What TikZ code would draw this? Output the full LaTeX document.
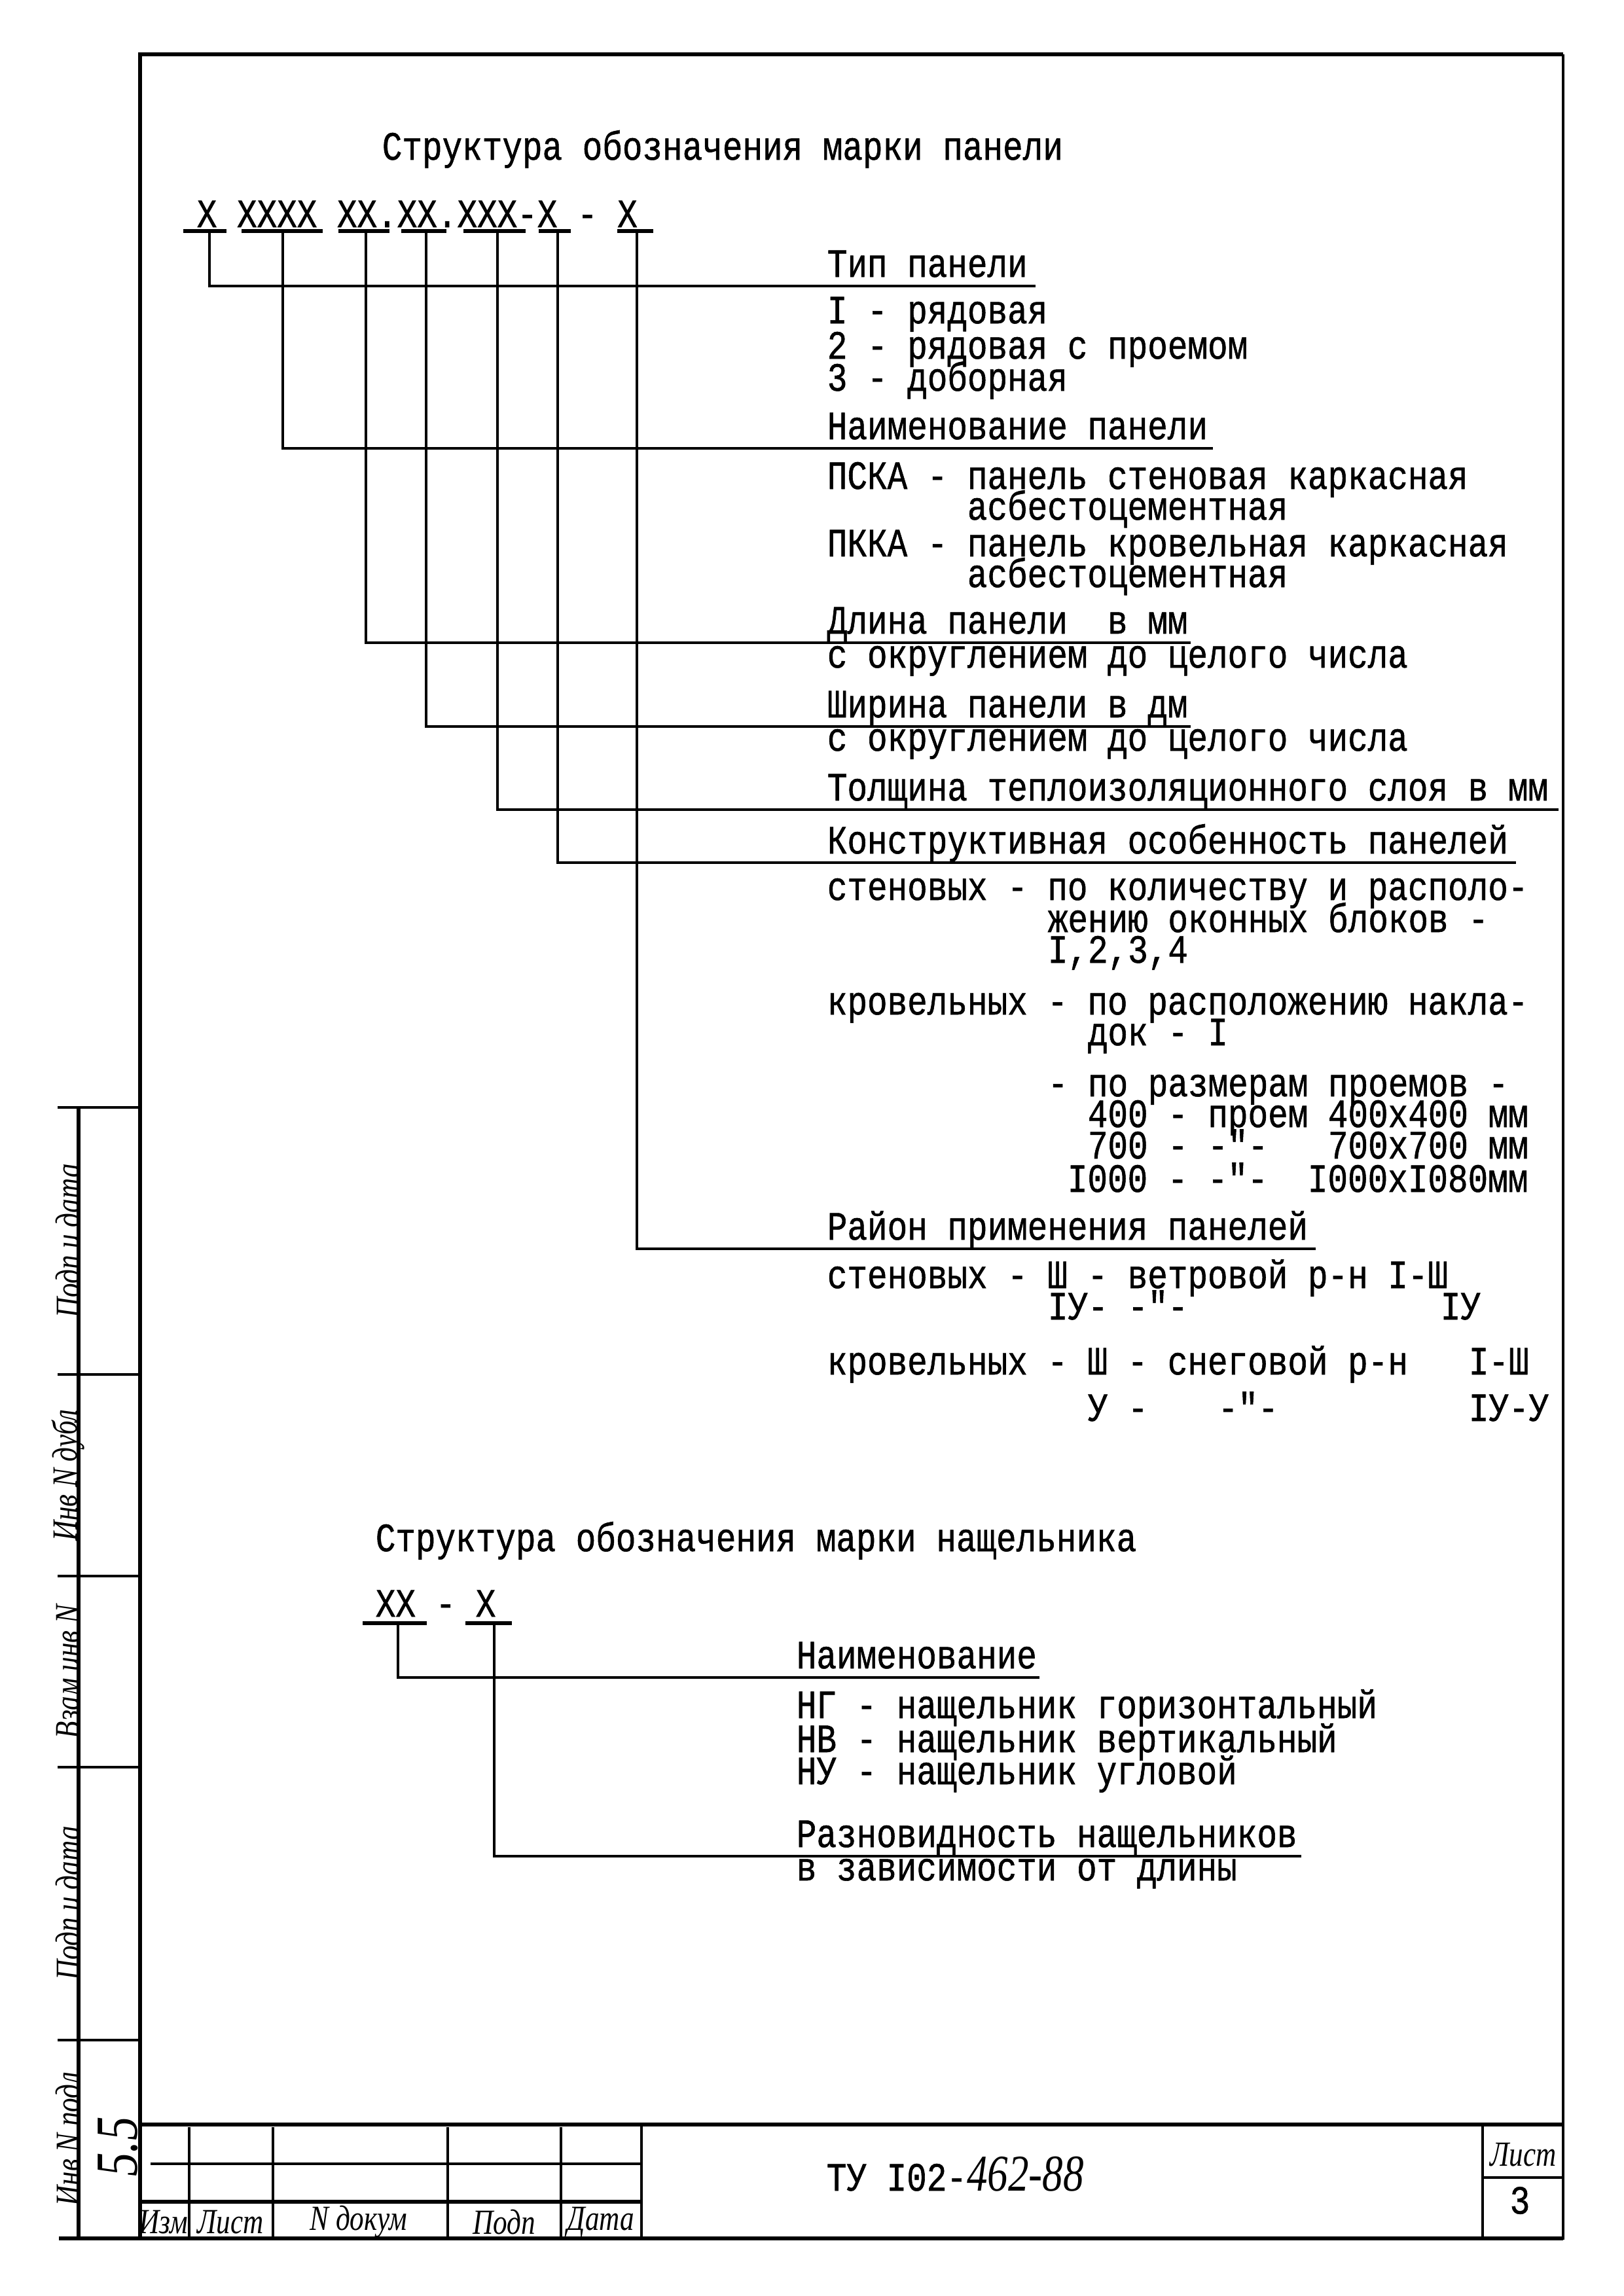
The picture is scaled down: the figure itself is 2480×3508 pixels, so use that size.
\documentclass[tikz,border=0pt]{standalone}
\usepackage{fontspec}
\newfontfamily\tw{Liberation Mono}[FakeStretch=0.83,FakeBold=0.9]
\newfontfamily\hw{Liberation Serif}[FakeStretch=0.8]
\newcommand\T{\tw\fontsize{14.8}{12}\selectfont}
\newcommand\HW{\hw\itshape\fontsize{13}{13}\selectfont}
\begin{document}
\begin{tikzpicture}[x=0.08468mm, y=-0.08468mm,
  frame/.style={line width=0.55mm},
  thinframe/.style={line width=0.3mm},
  cell/.style={line width=0.28mm},
  lead/.style={line width=0.38mm},
  uline/.style={line width=0.45mm},
  body/.style={anchor=base west, inner sep=0pt, font=\T},
  head/.style={anchor=base west, inner xsep=0pt, inner ysep=1.1mm, text depth=0pt, font=\T},
  hand/.style={inner sep=0pt, font=\HW}]
\useasboundingbox (0,0) rectangle (2480,3508);
\fill[white] (0,0) rectangle (2480,3508);

% ---------- frame ----------
\draw[frame] (214,3420) -- (214,83) -- (2388,83);
\draw[thinframe] (2388,83) -- (2388,3422);

% ---------- title block ----------
\draw[frame] (214,3246) -- (2388,3246);
\draw[frame] (90,3420) -- (2388,3420);
\draw[frame] (214,3364) -- (980,3364);
\draw[cell] (230,3306) -- (980,3306);
\foreach \x in {289,417,684,857} \draw[cell] (\x,3250) -- (\x,3420);
\draw[cell] (980,3246) -- (980,3420);
\draw[cell] (2265,3246) -- (2265,3420);
\draw[cell] (2265,3327) -- (2388,3327);
\node[hand] (izm) at (250,3395) {Изм};
\node[hand] (list) at (352,3395) {Лист};
\node[hand] (ndok) at (548,3395) {N докум};
\node[hand] (podp) at (770,3395) {Подп};
\node[hand] (data) at (918,3395) {Дата};
\node[body] (tu) at (1262,3347) {ТУ I02-{\hw\itshape\fontsize{19}{19}\selectfont 462-88}};
\node[hand] (listr) at (2327,3292) {Лист};
\node[font=\T, inner sep=0pt] (pg) at (2322,3362) {3};

% ---------- left strip ----------
\draw[frame] (120,1692) -- (120,3420);
\foreach \y in {1692,2100,2408,2700,3117} \draw[cell] (88,\y) -- (214,\y);
\node[hand, rotate=90] (s1) at (104,1896) {Подп и дата};
\node[hand, rotate=90] (s2) at (104,2254) {Инв N дубл};
\node[hand, rotate=90] (s3) at (104,2554) {Взам инв N};
\node[hand, rotate=90] (s4) at (104,2908) {Подп и дата};
\node[hand, rotate=90] (s5) at (104,3268) {Инв N подл};
\node[hand, rotate=90, font=\hw\itshape\fontsize{22}{22}\selectfont] (num) at (180,3280) {5.5};

% ---------- panel mark ----------
\node[body] (title1) at (583,244) {Структура обозначения марки панели};
\node[body] (code1) at (300,347) {X XXXX XX.XX.XXX-X - X};
\foreach \a/\b in {280/346,369/493,517/595,613/682,708/803,823/872,943/998}
  \draw[uline] (\a,353) -- (\b,353);
\coordinate (u1) at (320,353);
\coordinate (u2) at (432,353);
\coordinate (u3) at (559,353);
\coordinate (u4) at (651,353);
\coordinate (u5) at (760,353);
\coordinate (u6) at (852,353);
\coordinate (u7) at (973,353);

\node[head] (h1) at (1263,423) {Тип панели};
\node[body] at (1263,494) {I - рядовая};
\node[body] at (1263,548) {2 - рядовая с проемом};
\node[body] at (1263,597) {3 - доборная};

\node[head] (h2) at (1263,671) {Наименование панели};
\node[body] at (1263,747) {ПСКА - панель стеновая каркасная};
\node[body] at (1477,794) {асбестоцементная};
\node[body] at (1263,850) {ПККА - панель кровельная каркасная};
\node[body] at (1477,897) {асбестоцементная};

\node[head] (h3) at (1263,968) {Длина панели\ \ в мм};
\node[body] at (1263,1020) {с округлением до целого числа};

\node[head] (h4) at (1263,1096) {Ширина панели в дм};
\node[body] at (1263,1147) {с округлением до целого числа};

\node[head] (h5) at (1263,1223) {Толщина теплоизоляционного слоя в мм};

\node[head] (h6) at (1263,1304) {Конструктивная особенность панелей};
\node[body] at (1263,1375) {стеновых - по количеству и располо-};
\node[body] at (1600,1424) {жению оконных блоков -};
\node[body] at (1600,1471) {I,2,3,4};
\node[body] at (1263,1550) {кровельных - по расположению накла-};
\node[body] at (1661,1597) {док - I};
\node[body] at (1600,1675) {- по размерам проемов -};
\node[body] at (1661,1722) {400 - проем 400х400 мм};
\node[body] at (1661,1770) {700 - -"-\ \ \ 700х700 мм};
\node[body] at (1630,1821) {I000 - -"-\ \ I000хI080мм};

\node[head] (h7) at (1263,1894) {Район применения панелей};
\node[body] at (1263,1968) {стеновых - Ш - ветровой р-н I-Ш};
\node[body] at (1600,2016) {IУ- -"-};
\node[body] at (2200,2016) {IУ};
\node[body] at (1263,2100) {кровельных - Ш - снеговой р-н};
\node[body] at (2243,2100) {I-Ш};
\node[body] at (1661,2171) {У -};
\node[body] at (1860,2171) {-"-};
\node[body] at (2243,2171) {IУ-У};

\draw[lead] (u1) |- ([xshift=1.0mm]h1.south east);
\draw[lead] (u2) |- ([xshift=0.6mm]h2.south east);
\draw[lead] (u3) |- ([xshift=0.3mm]h3.south east);
\draw[lead] (u4) |- ([xshift=0.3mm]h4.south east);
\draw[lead] (u5) |- ([xshift=1.3mm]h5.south east);
\draw[lead] (u6) |- ([xshift=0.9mm]h6.south east);
\draw[lead] (u7) |- ([xshift=0.9mm]h7.south east);

% ---------- batten mark ----------
\node[body] (title2) at (573,2370) {Структура обозначения марки нащельника};
\node[body] (code2) at (573,2470) {XX - X};
\draw[uline] (554,2480) -- (652,2480);
\draw[uline] (711,2480) -- (782,2480);
\coordinate (v1) at (608,2480);
\coordinate (v2) at (755,2480);

\node[head] (h8) at (1216,2549) {Наименование};
\node[body] at (1216,2625) {НГ - нащельник горизонтальный};
\node[body] at (1216,2677) {НВ - нащельник вертикальный};
\node[body] at (1216,2726) {НУ - нащельник угловой};
\node[head] (h9) at (1216,2822) {Разновидность нащельников};
\node[body] at (1216,2873) {в зависимости от длины};

\draw[lead] (v1) |- ([xshift=0.3mm]h8.south east);
\draw[lead] (v2) |- ([xshift=0.5mm]h9.south east);
\end{tikzpicture}
\end{document}
